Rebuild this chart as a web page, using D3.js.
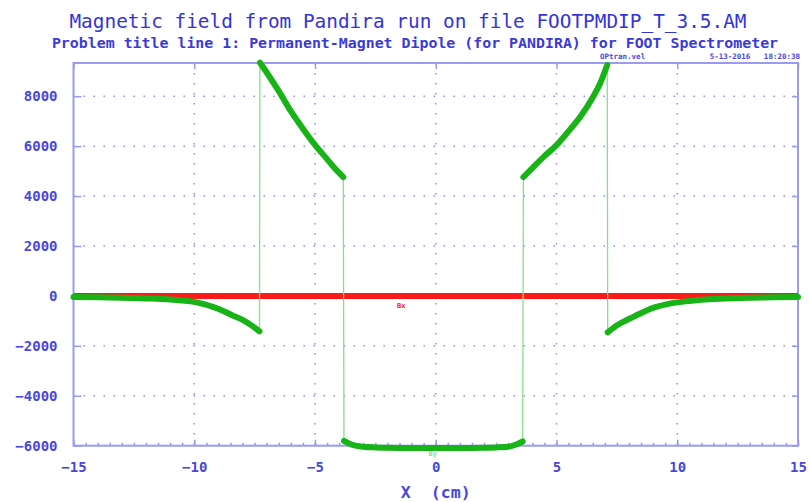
<!DOCTYPE html>
<html>
<head>
<meta charset="utf-8">
<script src="https://cdn.jsdelivr.net/npm/d3@7"></script>
<style>
  body { margin: 0; background: #fff; }
  svg { display: block; font-family: "DejaVu Sans Mono", "Liberation Mono", monospace; }
</style>
</head>
<body>
<div id="chart"></div>
<script>
// Field along the axis
const xPos = [
    -15, -14, -13, -12, -11, -10.5, -10, -9.6, -9.2, -8.8, -8.4, -8.0, -7.6, -7.3,
    -7.28, -7.0, -6.5, -6.0, -5.5, -5.0, -4.5, -4.2, -3.83,
    -3.8, -3.5, -3.0, -2.5, -2.0, -1.0, 0, 1.0, 2.0, 2.5, 3.0, 3.3, 3.6,
    3.63, 4.0, 4.5, 5.0, 5.5, 6.0, 6.5, 6.8, 7.1,
    7.12, 7.4, 7.8, 8.2, 8.6, 9.0, 9.5, 10, 10.5, 11, 12, 13, 14, 15
];
const byValues = [
    -40, -50, -70, -100, -145, -185, -240, -330, -450, -600, -790, -960, -1200, -1420,
    9340, 8950, 8200, 7400, 6700, 6050, 5480, 5130, 4760,
    -5810, -5950, -6040, -6070, -6080, -6090, -6090, -6090, -6080, -6070, -6040, -5960, -5830,
    4760, 5120, 5600, 6040, 6600, 7200, 7950, 8500, 9250,
    -1460, -1250, -1020, -830, -640, -480, -350, -260, -200, -150, -105, -75, -55, -40
];
const bxValues = xPos.map(() => 0);

const xTicks = [-15, -10, -5, 0, 5, 10, 15];
const yTicks = [-6000, -4000, -2000, 0, 2000, 4000, 6000, 8000];

const titleText = 'Magnetic field from Pandira run on file FOOTPMDIP_T_3.5.AM';
const subtitleText = 'Problem title line 1: Permanent-Magnet Dipole (for PANDIRA) for FOOT Spectrometer';
const stampFile = 'OPtran.vel';
const stampDate = '5-13-2016   18:20:38';

const width = 810, height = 502;
const plotLeft = 73.5, plotRight = 798, plotTop = 63, plotBottom = 445.7;
const blue = '#4848dc', frame = '#9a9af2', grid = '#8c8cec';

const svg = d3.select('#chart').append('svg')
    .attr('width', width)
    .attr('height', height);

const x = d3.scaleLinear().domain([-15, 15]).range([plotLeft, plotRight]);
const y = d3.scaleLinear().domain([-6000, 9330]).range([plotBottom, plotTop]);

// titles
svg.append('text')
    .attr('x', 408).attr('y', 28)
    .attr('text-anchor', 'middle')
    .attr('font-size', 19.4)
    .attr('fill', '#3434d6')
    .text(titleText);

svg.append('text')
    .attr('x', 415).attr('y', 48)
    .attr('text-anchor', 'middle')
    .attr('font-size', 14.9)
    .attr('font-weight', 'bold')
    .attr('fill', '#3a3ad6')
    .text(subtitleText);

svg.append('text')
    .attr('x', 600).attr('y', 59)
    .attr('font-size', 7.5).attr('font-weight', 'bold')
    .attr('fill', blue)
    .text(stampFile);

svg.append('text')
    .attr('x', 800).attr('y', 59)
    .attr('text-anchor', 'end')
    .attr('font-size', 7.5).attr('font-weight', 'bold')
    .attr('fill', blue)
    .style('white-space', 'pre')
    .text(stampDate);

// dotted grid
const gridG = svg.append('g');
gridG.selectAll('line.gy')
    .data(yTicks.filter(d => d > -6000 && d !== 0))
    .join('line')
    .attr('class', 'gy')
    .attr('x1', plotLeft).attr('x2', plotRight)
    .attr('y1', d => y(d)).attr('y2', d => y(d))
    .attr('stroke', grid).attr('stroke-width', 1.5)
    .attr('stroke-dasharray', '1.5 8.5');
gridG.selectAll('line.gx')
    .data(xTicks.filter(d => d > -15 && d < 15))
    .join('line')
    .attr('class', 'gx')
    .attr('x1', d => x(d)).attr('x2', d => x(d))
    .attr('y1', plotTop).attr('y2', plotBottom)
    .attr('stroke', grid).attr('stroke-width', 1.5)
    .attr('stroke-dasharray', '1.5 8.5');

// frame
svg.append('rect')
    .attr('x', plotLeft).attr('y', plotTop)
    .attr('width', plotRight - plotLeft).attr('height', plotBottom - plotTop)
    .attr('fill', 'none')
    .attr('stroke', frame).attr('stroke-width', 2);

// axes
const axisStyle = g => {
    g.select('.domain').remove();
    g.selectAll('.tick line').attr('stroke', frame).attr('stroke-width', 1.5);
    g.selectAll('.tick text')
        .attr('fill', blue)
        .attr('font-size', 14)
        .attr('font-weight', 'bold')
        .attr('font-family', '"DejaVu Sans Mono", monospace');
};

svg.append('g')
    .attr('transform', `translate(0,${plotBottom})`)
    .call(d3.axisBottom(x).tickValues(d3.range(-15, 15.01, 0.5)).tickSize(-3).tickFormat(''))
    .call(axisStyle);

svg.append('g')
    .attr('transform', `translate(0,${plotBottom})`)
    .call(d3.axisBottom(x).tickValues(xTicks).tickSize(-6).tickPadding(16).tickFormat(d3.format('d')))
    .call(axisStyle);

svg.append('g')
    .attr('transform', `translate(${plotLeft},0)`)
    .call(d3.axisLeft(y).tickValues(yTicks).tickSize(-8).tickPadding(16).tickFormat(d3.format('d')))
    .call(axisStyle);

svg.append('g')
    .attr('transform', `translate(0,${plotTop})`)
    .call(d3.axisTop(x).tickValues(xTicks).tickSize(-6).tickFormat(''))
    .call(axisStyle);

svg.append('g')
    .attr('transform', `translate(${plotRight},0)`)
    .call(d3.axisRight(y).tickValues(yTicks).tickSize(-6).tickFormat(''))
    .call(axisStyle);

svg.append('text')
    .attr('x', (plotLeft + plotRight) / 2).attr('y', 498)
    .attr('text-anchor', 'middle')
    .attr('font-size', 16.6)
    .attr('font-weight', 'bold')
    .attr('fill', blue)
    .style('white-space', 'pre')
    .text('X  (cm)');

// curves
const line = d3.line().x(d => x(d[0])).y(d => y(d[1]));

const bxPts = xPos.map((v, i) => [v, bxValues[i]]);
svg.append('path')
    .datum(bxPts)
    .attr('d', line)
    .attr('fill', 'none')
    .attr('stroke', '#ff1a1a')
    .attr('stroke-width', 6);

const byPts = xPos.map((v, i) => [v, byValues[i]]);

// thin connecting line through all points (shows the jumps)
svg.append('path')
    .datum(byPts)
    .attr('d', line)
    .attr('fill', 'none')
    .attr('stroke', '#86e086')
    .attr('stroke-width', 1.3);

// thick pieces between jumps
const pieces = [];
let cur = [byPts[0]];
for (let i = 1; i < byPts.length; i++) {
    if (Math.abs(byPts[i][1] - byPts[i - 1][1]) > 3000) {
        pieces.push(cur);
        cur = [];
    }
    cur.push(byPts[i]);
}
pieces.push(cur);

svg.append('g').selectAll('path')
    .data(pieces)
    .join('path')
    .attr('d', d3.line().curve(d3.curveMonotoneX).x(d => x(d[0])).y(d => y(d[1])))
    .attr('fill', 'none')
    .attr('stroke', '#17b317')
    .attr('stroke-width', 6)
    .attr('stroke-linecap', 'round');

// series labels
svg.append('text')
    .attr('x', x(-1.6)).attr('y', y(0) + 12)
    .attr('font-size', 7).attr('font-weight', 'bold')
    .attr('fill', '#ff2020')
    .text('Bx');

svg.append('text')
    .attr('x', x(-0.3)).attr('y', plotBottom + 10)
    .attr('font-size', 7).attr('font-weight', 'bold')
    .attr('fill', '#8ee08e')
    .text('By');
</script>
</body>
</html>
